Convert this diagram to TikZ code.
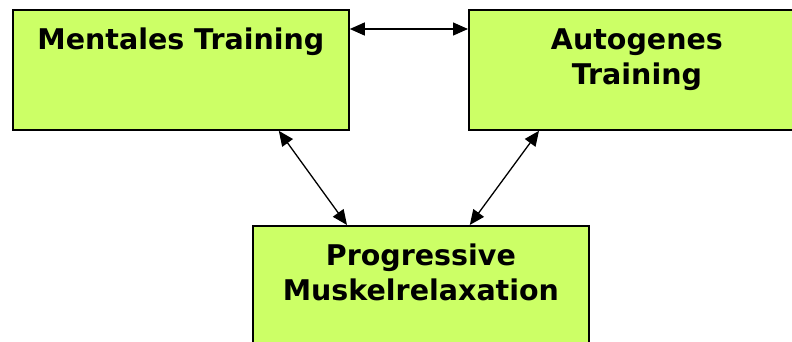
\documentclass[tikz,border=0pt]{standalone}
\usepackage{fontspec}
\setmainfont{DejaVu Sans}
\usetikzlibrary{arrows.meta}
\newcommand{\boxwidth}{336}
\newcommand{\boxheight}{120}
\newcommand{\boxtext}[1]{\parbox[c][\boxheight pt][t]{\boxwidth pt}{\centering\fontsize{28.5}{35}\selectfont\bfseries\rule{0pt}{40pt}#1}}

\begin{document}
\begin{tikzpicture}[x=1pt,y=-1pt,
	method/.style={draw=black, line width=1.8pt, fill={rgb,255:red,204;green,255;blue,102}, inner sep=0pt, anchor=north west},
	link/.style={{Triangle[length=15pt 0,width=13pt 0]}-{Triangle[length=15pt 0,width=13pt 0]}, line width=1.3pt}]
	
	\useasboundingbox (0,0) rectangle (792,341);
	
	\node[method] (mentales) at (12,9) {\boxtext{Mentales Training}};
	\node[method] (autogenes) at (468,9) {\boxtext{Autogenes\\Training}};
	\node[method] (progressive) at (252,225) {\boxtext{Progressive\\Muskelrelaxation}};
	
	\draw[link] ([yshift=-20pt]mentales.north east) -- ([yshift=-20pt]autogenes.north west);
	\draw[link] ([xshift=-71pt]mentales.south east) -- ([xshift=95pt]progressive.north west);
	\draw[link] ([xshift=71pt]autogenes.south west) -- ([xshift=-120pt]progressive.north east);

\end{tikzpicture}
\end{document}
